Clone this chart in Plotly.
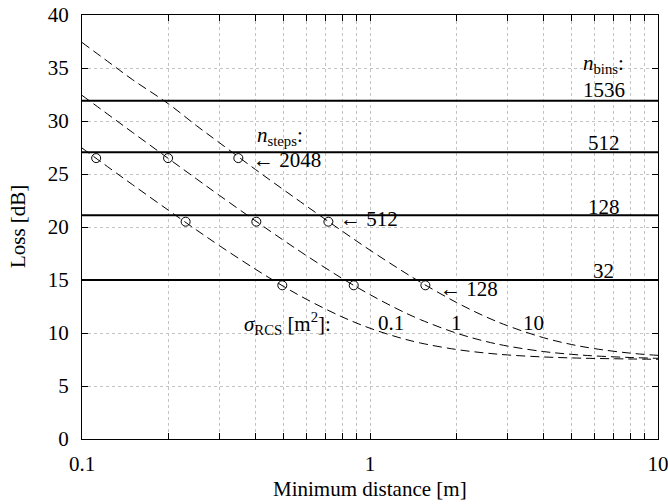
import plotly.graph_objects as go
import math

# ---- data ----
x_dist = [0.1, 0.125, 0.15, 0.2, 0.25, 0.3, 0.4, 0.5, 0.6, 0.8, 1, 1.25, 1.5, 2, 2.5, 3, 4, 5, 6, 8, 10]
loss_sigma_01 = [27.45, 25.53, 23.98, 21.56, 19.71, 18.24, 16.02, 14.41, 13.20, 11.52, 10.45, 9.60, 9.05, 8.44, 8.12, 7.93, 7.74, 7.65, 7.60, 7.55, 7.52]
loss_sigma_1 = [32.42, 30.49, 28.91, 26.44, 24.53, 22.98, 20.58, 18.76, 17.32, 15.15, 13.62, 12.24, 11.25, 9.98, 9.23, 8.77, 8.25, 7.99, 7.84, 7.69, 7.61]
loss_sigma_10 = [37.41, 35.47, 33.89, 31.60, 29.55, 27.95, 25.43, 23.53, 22.00, 19.62, 17.82, 16.11, 14.78, 12.87, 11.58, 10.69, 9.56, 8.92, 8.53, 8.10, 7.89]

# circle markers (n_steps = 2048, 512, 128)
mark_loss = [26.5, 20.5, 14.5]
mark_x_sigma_01 = [0.112, 0.229, 0.496]
mark_x_sigma_1 = [0.199, 0.403, 0.878]
mark_x_sigma_10 = [0.349, 0.717, 1.557]

# horizontal n_bins levels
nbins_labels = ["1536", "512", "128", "32"]
nbins_loss = [31.9, 27.05, 21.1, 15.0]
nbins_label_y = [32.9, 27.95, 21.9, 15.85]

nsteps_labels = ["2048", "512", "128"]
nsteps_label_x = [0.385, 0.775, 1.72]
nsteps_label_y = [26.3, 20.8, 14.15]

sigma_labels = ["0.1", "1", "10"]
sigma_label_x = [1.18, 1.99, 3.70]
sigma_label_y = 10.9

x_range = [0.1, 10]
y_range = [0, 40]
x_tick_all = [0.1, 0.2, 0.3, 0.4, 0.5, 0.6, 0.7, 0.8, 0.9, 1, 2, 3, 4, 5, 6, 7, 8, 9, 10]
x_tick_text = ["0.1", "", "", "", "", "", "", "", "", "1", "", "", "", "", "", "", "", "", "10"]

FONT = "Liberation Serif"
FS = 21
TXT = dict(family=FONT, size=FS, color="black")

fig = go.Figure()

for lv in nbins_loss:
    fig.add_trace(go.Scatter(x=x_range, y=[lv, lv], mode="lines",
                             line=dict(color="black", width=2), showlegend=False, hoverinfo="skip"))

for ys in [loss_sigma_01, loss_sigma_1, loss_sigma_10]:
    fig.add_trace(go.Scatter(x=x_dist, y=ys, mode="lines", line_shape="spline",
                             line=dict(color="black", width=1, dash="9px,5px"), showlegend=False))

for mx in [mark_x_sigma_01, mark_x_sigma_1, mark_x_sigma_10]:
    fig.add_trace(go.Scatter(x=mx, y=mark_loss, mode="markers",
                             marker=dict(symbol="circle-open", size=9, color="black", line=dict(width=1)),
                             showlegend=False))

ann = []
rx = math.log10(6.47)
ann.append(dict(x=rx, y=35.35, text="<i>n</i><sub>bins</sub>:", xanchor="center", yanchor="middle"))
for t, yy in zip(nbins_labels, nbins_label_y):
    ann.append(dict(x=rx, y=yy, text=t, xanchor="center", yanchor="middle"))
ann.append(dict(x=math.log10(0.398), y=28.6, text="<i>n</i><sub>steps</sub>:", xanchor="left", yanchor="middle"))
for t, xx, yy in zip(nsteps_labels, nsteps_label_x, nsteps_label_y):
    ann.append(dict(x=math.log10(xx), y=yy, text="← " + t, xanchor="left", yanchor="middle"))
ann.append(dict(x=math.log10(0.360), y=sigma_label_y, text="<i>σ</i><sub>RCS</sub> [m<sup>2</sup>]:",
                xanchor="left", yanchor="middle"))
for t, xx in zip(sigma_labels, sigma_label_x):
    ann.append(dict(x=math.log10(xx), y=sigma_label_y, text=t, xanchor="center", yanchor="middle"))
for a in ann:
    a.update(xref="x", yref="y", showarrow=False, font=TXT)

# axis titles
ann.append(dict(xref="paper", yref="paper", x=0.5, y=-0.118, yanchor="middle", xanchor="center",
                text="Minimum distance [m]", showarrow=False, font=TXT))
ann.append(dict(xref="paper", yref="paper", x=-0.111, y=0.5, yanchor="middle", xanchor="center",
                text="Loss [dB]", textangle=-90, showarrow=False, font=TXT))

fig.update_layout(
    width=668, height=504,
    margin=dict(l=82, r=10, t=15, b=65, autoexpand=False),
    paper_bgcolor="white", plot_bgcolor="white",
    font=TXT,
    annotations=ann,
    xaxis=dict(type="log", range=[-1, 1], tickvals=x_tick_all, ticktext=x_tick_text,
               ticks="inside", ticklen=6, tickcolor="black", mirror="allticks",
               showline=True, linecolor="black", linewidth=1,
               showgrid=True, gridcolor="#c4c4c4", griddash="dot", gridwidth=1,
               zeroline=False, ticklabelstandoff=6, automargin=False,
               ticklabeloverflow="allow", tickfont=TXT),
    yaxis=dict(range=y_range, dtick=5, ticks="inside", ticklen=6, tickcolor="black", mirror="allticks",
               showline=True, linecolor="black", linewidth=1,
               showgrid=True, gridcolor="#c4c4c4", griddash="dot", gridwidth=1,
               zeroline=False, ticklabelstandoff=8, automargin=False,
               ticklabeloverflow="allow", tickfont=TXT),
)

fig.write_html("out.html")
